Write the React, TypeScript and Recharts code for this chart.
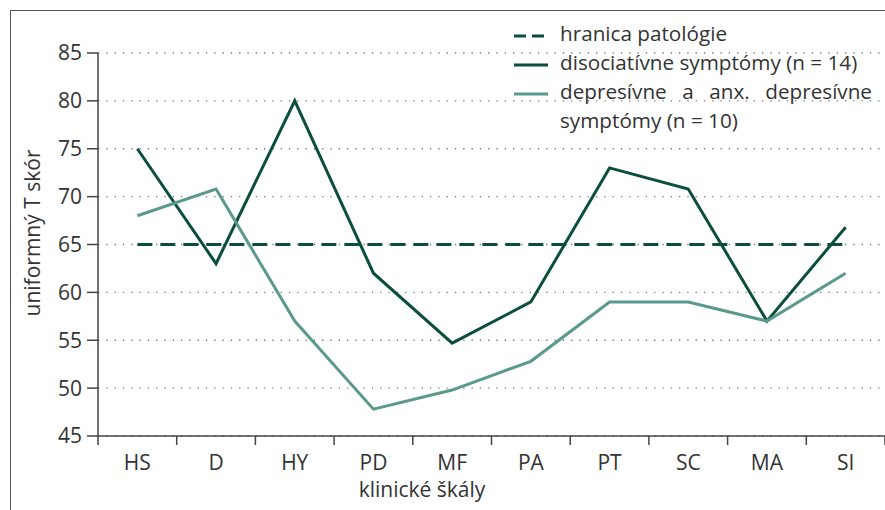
import React from "react";
import { LineChart, Line, XAxis, YAxis, CartesianGrid, Legend } from "recharts";

// MMPI clinical scales
const scales = ["HS", "D", "HY", "PD", "MF", "PA", "PT", "SC", "MA", "SI"];
const disociativne = [75, 63, 80, 62, 54.7, 59, 73, 70.8, 57, 66.8];
const depresivne = [68, 70.8, 57, 47.8, 49.8, 52.8, 59, 59, 57, 62];
const hranica = [65, 65, 65, 65, 65, 65, 65, 65, 65, 65];
const yTicks = [45, 50, 55, 60, 65, 70, 75, 80, 85];
const legendOrder = ["hranica", "diso", "depr"];

const data = scales.map((s, i) => ({
  name: s,
  hranica: hranica[i],
  diso: disociativne[i],
  depr: depresivne[i],
}));

const DARK = "#0b4e3e";
const LIGHT = "#5b998e";
const TEXT = "#333";
const AXIS = "#444";
const FONT = "'Open Sans', sans-serif";

const W = 885;
const H = 510;
const PLOT_LEFT = 98;
const HALF_BAND = (W - PLOT_LEFT) / scales.length / 2;

const XTick = (props: any) => {
  const { x, y, payload, index } = props;
  const half = payload && payload.offset ? payload.offset : HALF_BAND;
  return (
    <g>
      <line x1={x - half} x2={x - half} y1={y} y2={y + 9} stroke={AXIS} strokeWidth={1.5} />
      {index === scales.length - 1 && (
        <line x1={x + half} x2={x + half} y1={y} y2={y + 9} stroke={AXIS} strokeWidth={1.5} />
      )}
      <text x={x} y={y + 34} textAnchor="middle" fill={TEXT} fontSize={21} fontFamily={FONT}>
        {payload.value}
      </text>
    </g>
  );
};

const renderLegend = (props: any) => {
  const items = [...(props.payload || [])].sort(
    (a: any, b: any) => legendOrder.indexOf(a.dataKey) - legendOrder.indexOf(b.dataKey)
  );
  return (
    <div style={{ fontFamily: FONT, fontSize: 20.7, color: TEXT, textAlign: "left" }}>
      {items.map((entry: any) => (
        <div key={entry.value} style={{ display: "flex", alignItems: "flex-start" }}>
          <svg width={48} height={29} style={{ flex: "none" }}>
            <line
              x1={2}
              x2={36}
              y1={17}
              y2={17}
              stroke={entry.color}
              strokeWidth={3}
              strokeDasharray={entry.dataKey === "hranica" ? "12 6" : undefined}
            />
          </svg>
          <div style={{ width: 312, lineHeight: "29px", textAlign: "justify" }}>{entry.value}</div>
        </div>
      ))}
    </div>
  );
};

export default function App() {
  return (
    <div style={{ position: "absolute", left: 0, top: 0, width: W, height: H, background: "#fff" }}>
      <div
        style={{
          position: "absolute",
          left: 10,
          top: 10,
          width: W - 10,
          height: H - 10,
          borderTop: "1.5px solid #555",
          borderLeft: "1.5px solid #555",
        }}
      />
      <LineChart
        width={W}
        height={H}
        data={data}
        margin={{ top: 53, right: 0, bottom: 0, left: 0 }}
        style={{ fontFamily: FONT }}
      >
        <CartesianGrid
          vertical={false}
          stroke="#777"
          strokeWidth={1.3}
          strokeDasharray="1.3 7"
        />
        <XAxis
          dataKey="name"
          scale="band"
          height={74}
          tickLine={false}
          tickSize={0}
          tickMargin={0}
          axisLine={{ stroke: AXIS, strokeWidth: 1.5 }}
          tick={<XTick />}
          interval={0}
          label={(p: any) => (
            <text x={422} y={497} textAnchor="middle" fill={TEXT} fontSize={21} fontFamily={FONT}>
              klinické škály
            </text>
          )}
        />
        <YAxis
          width={PLOT_LEFT}
          domain={[45, 85]}
          ticks={yTicks}
          interval={0}
          tickSize={11}
          tickMargin={5}
          axisLine={{ stroke: AXIS, strokeWidth: 1.5 }}
          tickLine={{ stroke: AXIS, strokeWidth: 1.5 }}
          tick={{ fill: TEXT, fontSize: 21, fontFamily: FONT }}
          label={(p: any) => (
            <text
              transform="translate(40,233) rotate(-90)"
              textAnchor="middle"
              fill={TEXT}
              fontSize={21}
              fontFamily={FONT}
            >
              uniformný T skór
            </text>
          )}
        />
        <Legend
          verticalAlign="middle"
          align="center"
          layout="horizontal"
          content={renderLegend}
          wrapperStyle={{ position: "absolute", left: 512, top: 19, width: 368, height: "auto" }}
        />
        <Line
          dataKey="hranica"
          name="hranica patológie"
          stroke={DARK}
          strokeWidth={3}
          strokeDasharray="15 8"
          dot={false}
          activeDot={false}
          isAnimationActive={false}
        />
        <Line
          dataKey="diso"
          name="disociatívne symptómy (n = 14)"
          stroke={DARK}
          strokeWidth={3}
          dot={false}
          activeDot={false}
          isAnimationActive={false}
        />
        <Line
          dataKey="depr"
          name="depresívne a anx. depresívne symptómy (n = 10)"
          stroke={LIGHT}
          strokeWidth={3}
          dot={false}
          activeDot={false}
          isAnimationActive={false}
        />
      </LineChart>
    </div>
  );
}
